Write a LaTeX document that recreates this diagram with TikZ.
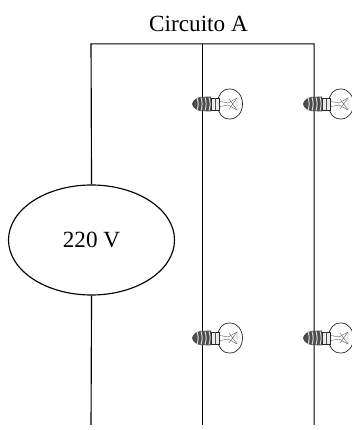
\documentclass[tikz,border=0pt]{standalone}
\usepackage{fontspec}
\setmainfont{Liberation Serif}
\usetikzlibrary{shapes.geometric}
\tikzset{
  wire/.style={line width=.65pt, black},
  source/.style={ellipse, draw, line width=.65pt, black, minimum width=166*.02cm, minimum height=110*.02cm, inner sep=0pt, font=\fontsize{13.2}{15}\selectfont},
  title/.style={inner sep=0pt, font=\fontsize{13.2}{15}\selectfont},
  bulb/.pic={
    % glass
    \draw[line width=.4pt, black!85, fill=white] (15,5.5) .. controls (17,9) and (18,15) .. (27,15) .. controls (34.5,15) and (39.5,8) .. (39.5,0) .. controls (39.5,-8) and (34.5,-15) .. (27,-15) .. controls (18,-15) and (17,-9) .. (15,-5.5) -- cycle;
    % filament
    \draw[line width=.25pt, black!60] (17,2.5) -- (25,1) -- (34,6) -- (34,-6) -- (25,-1) -- (17,-2.5);
    \draw[line width=.25pt, black!60] (26,5) -- (34,-6) (26,-5) -- (34,6);
    % collar
    \draw[line width=.4pt, black!85, fill=black!8] (8,6) rectangle (16,-6);
    \draw[line width=.3pt, black!70] (12,6) -- (12,-6);
    % screw
    \fill[black!70] (-11,0) .. controls (-10,4) and (-7,6) .. (-3,7) -- (8,7.5) -- (8,-7.5) -- (-3,-7) .. controls (-7,-6) and (-10,-4) .. (-11,0);
    \foreach \tx in {-6,-2,2,6}
      \draw[black!12, line width=.55pt] (\tx,6.5) .. controls (\tx+1.5,2) and (\tx+1.5,-2) .. (\tx,-6.5);
  }
}
\begin{document}
\begin{tikzpicture}[scale=.02]
\useasboundingbox (0,0) rectangle (352,430);
\node[title] (name) at (198.5,406) {Circuito A};
\coordinate (top1) at (91,386);
\coordinate (top2) at (202.5,386);
\coordinate (top3) at (314,386);
\coordinate (bot1) at (91,5);
\coordinate (bot2) at (202.5,5);
\coordinate (bot3) at (314,5);
\node[source] (ac) at (91.5,190) {220 V};
\draw[wire] (ac.north) -- (top1) -- (top3) -- (bot3);
\draw[wire] (top2) -- (bot2);
\draw[wire] (ac.south) -- (bot1);
\pic[transform shape] at (203,326) {bulb};
\pic[transform shape] at (314,326) {bulb};
\pic[transform shape] at (203,92) {bulb};
\pic[transform shape] at (314,92) {bulb};
\end{tikzpicture}
\end{document}
